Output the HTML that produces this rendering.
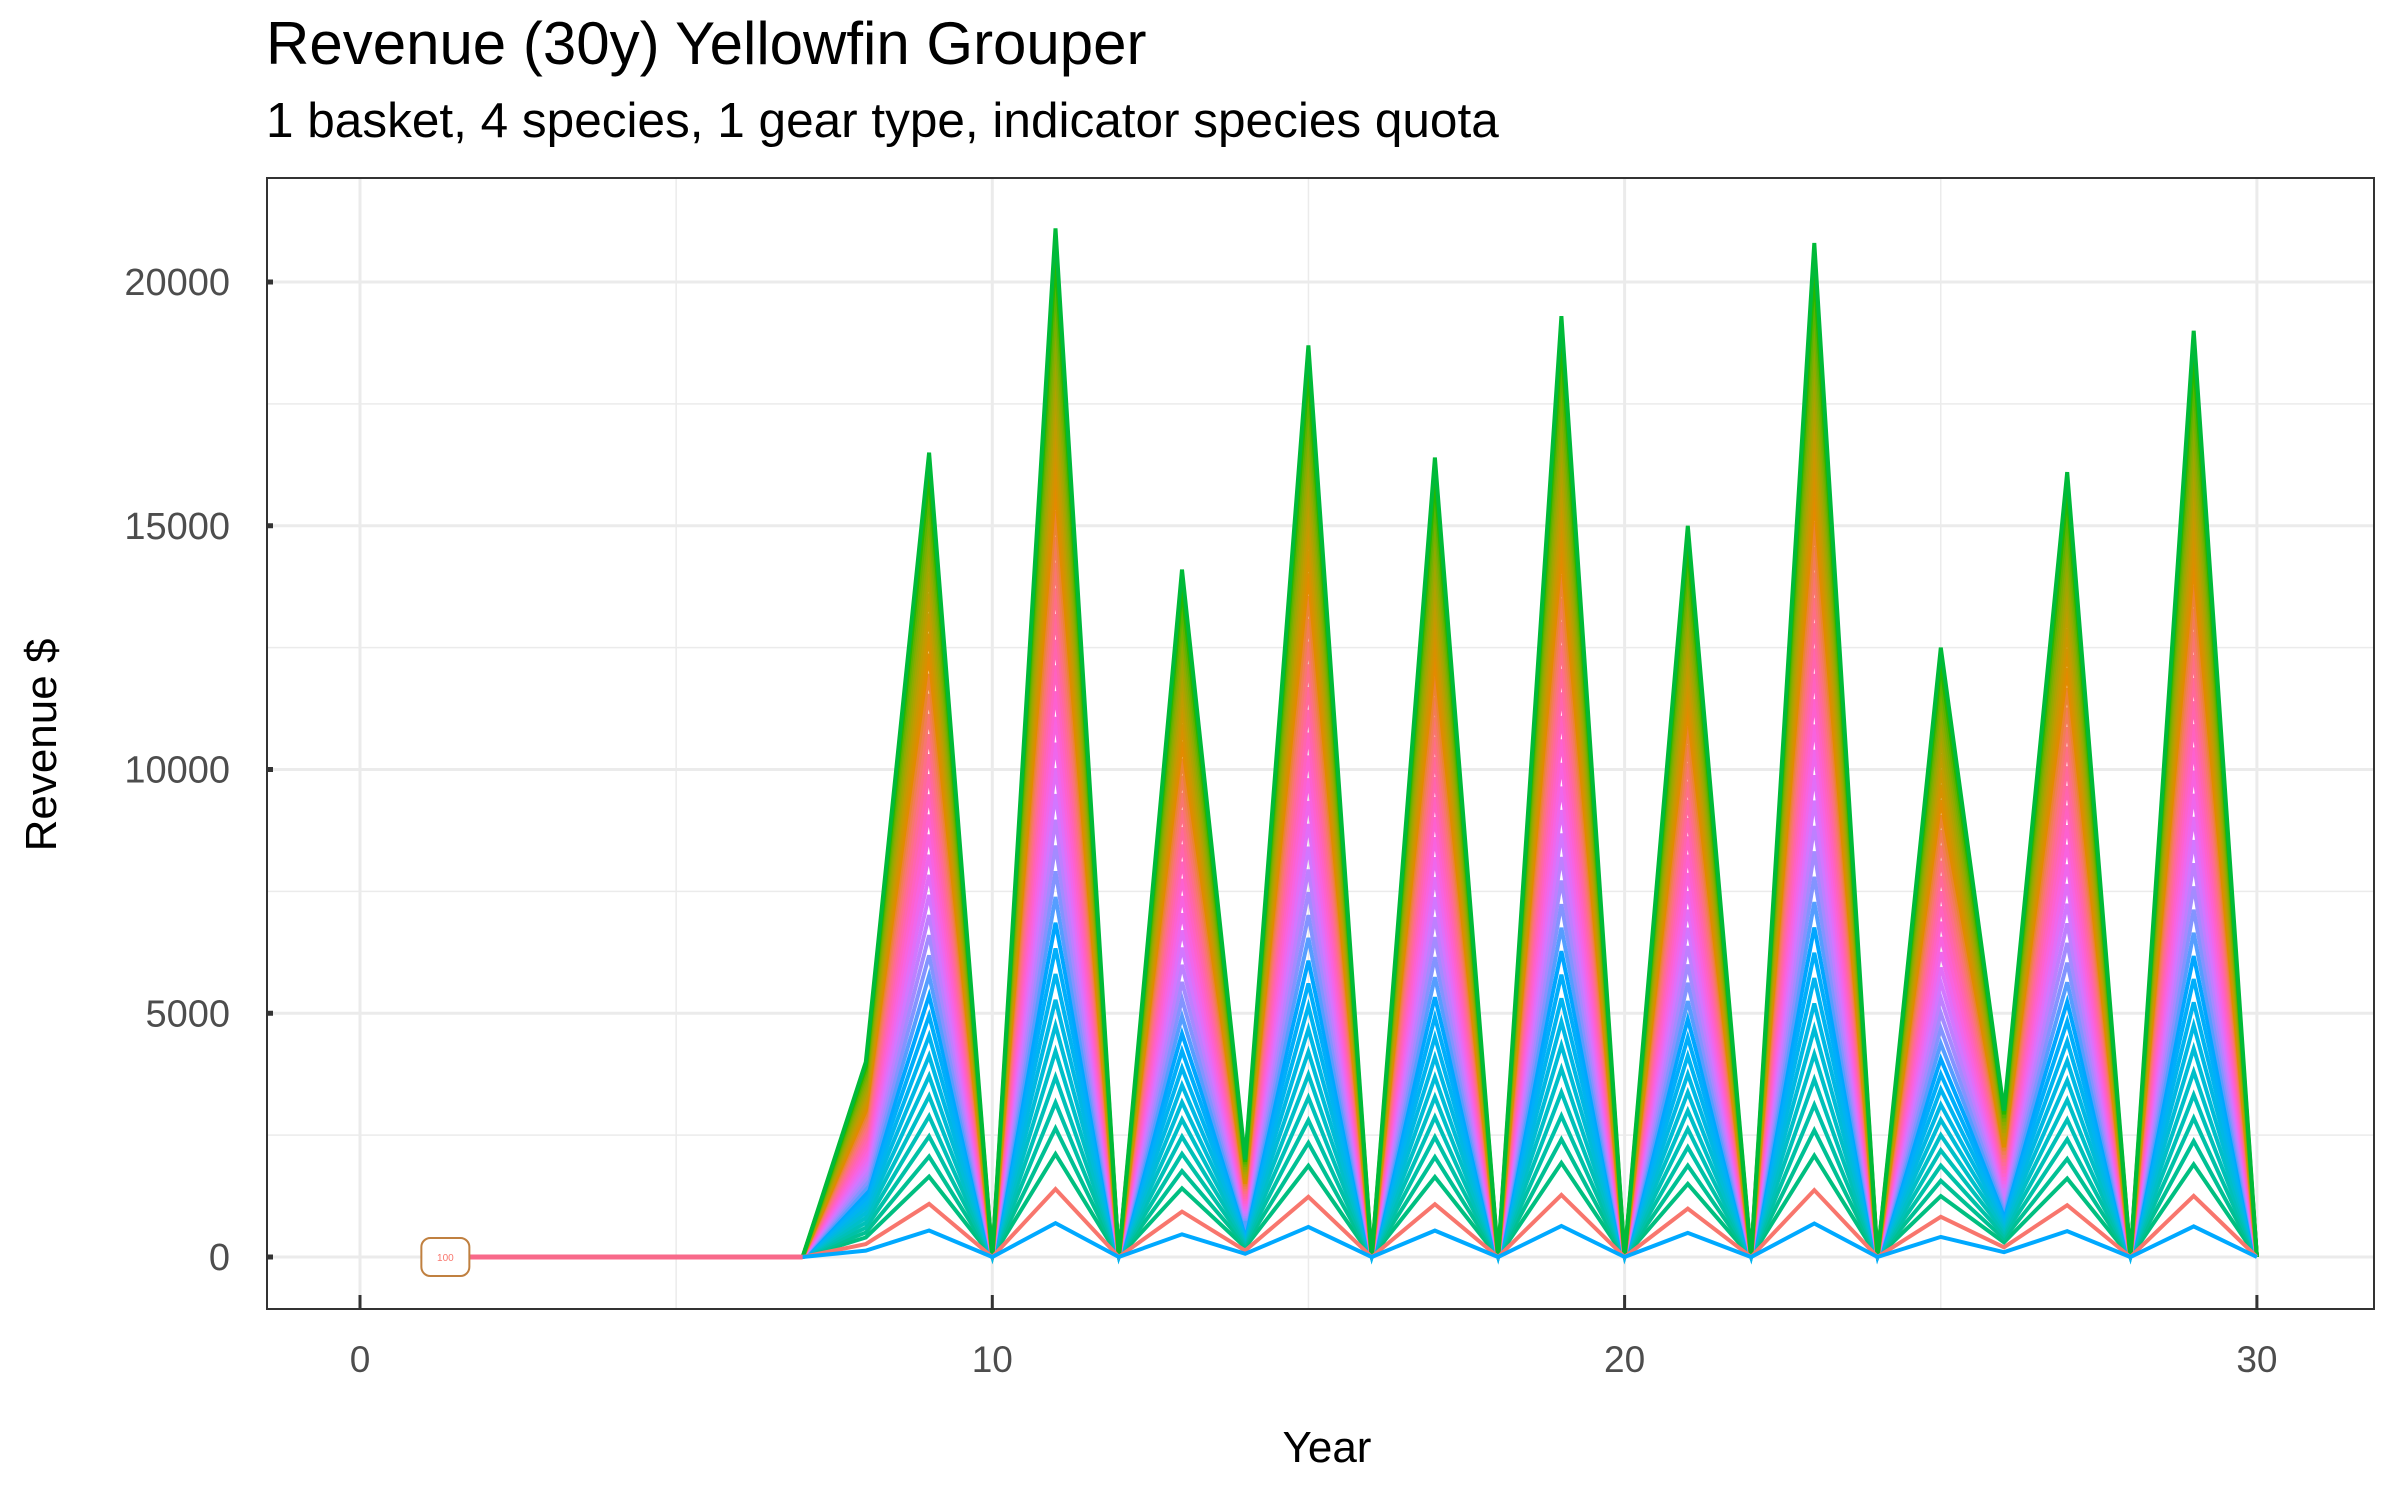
<!DOCTYPE html>
<html><head><meta charset="utf-8">
<style>
html,body{margin:0;padding:0;background:#fff;}
svg{display:block;font-family:"Liberation Sans",Arial,sans-serif;}
</style></head>
<body>
<svg id="chart" width="2400" height="1500" viewBox="0 0 2400 1500" xmlns="http://www.w3.org/2000/svg">
<rect width="2400" height="1500" fill="#fff"/>
<text x="266" y="64" font-size="60" fill="#000">Revenue (30y) Yellowfin Grouper</text>
<text x="266" y="137" font-size="49.5" fill="#000">1 basket, 4 species, 1 gear type, indicator species quota</text>
<g id="grid"></g>
<g id="series"></g>
<g id="axes"></g>
<text x="1327" y="1462" font-size="44" text-anchor="middle" fill="#000">Year</text>
<text transform="translate(56,745) rotate(-90)" font-size="44" text-anchor="middle" fill="#000">Revenue $</text>
</svg>
<script>
const years = [1,2,3,4,5,6,7,8,9,10,11,12,13,14,15,16,17,18,19,20,21,22,23,24,25,26,27,28,29,30];
const topRevenue = [0,0,0,0,0,0,0,4000,16500,0,21100,0,14100,2000,18700,0,16400,0,19300,0,15000,0,20800,0,12500,3000,16100,0,19000,0];
const multipliers = [0.1,0.125,0.15,0.175,0.2,0.225,0.25,0.275,0.3,0.325,0.35,0.375,0.4,0.425,0.45,0.475,0.5,0.525,0.55,0.575,0.6,0.625,0.65,0.675,0.7,0.725,0.75,0.775,0.8,0.825,0.85,0.875,0.9,0.925,0.95,0.975,1.0];
const lowMultipliers = [0.066, 0.033];
const xTicks = [0,10,20,30];
const yTicks = [0,5000,10000,15000,20000];

const NS="http://www.w3.org/2000/svg";
const P={l:267,r:2374,t:178,b:1309};
const X=v=>360+v*63.23;
const Y=v=>1257-v*0.04875;
function mk(tag,attrs,parent){const e=document.createElementNS(NS,tag);for(const k in attrs)e.setAttribute(k,attrs[k]);parent.appendChild(e);return e;}
function hcl(h,c,l){
  const hr=h*Math.PI/180,u=c*Math.cos(hr),v=c*Math.sin(hr);
  const Xn=0.95047,Yn=1,Zn=1.08883;
  const un=4*Xn/(Xn+15*Yn+3*Zn),vn=9*Yn/(Xn+15*Yn+3*Zn);
  const Yv=l>8?Yn*Math.pow((l+16)/116,3):Yn*l/903.3;
  const up=u/(13*l)+un,vp=v/(13*l)+vn;
  const Xv=Yv*9*up/(4*vp),Zv=Yv*(12-3*up-20*vp)/(4*vp);
  let r=3.2406*Xv-1.5372*Yv-0.4986*Zv,g=-0.9689*Xv+1.8758*Yv+0.0415*Zv,b=0.0557*Xv-0.2040*Yv+1.0570*Zv;
  const gm=x=>{x=x<=0.0031308?12.92*x:1.055*Math.pow(x,1/2.4)-0.055;return Math.round(Math.max(0,Math.min(1,x))*255);};
  return `rgb(${gm(r)},${gm(g)},${gm(b)})`;
}
const grid=document.getElementById('grid'),ser=document.getElementById('series'),axes=document.getElementById('axes');

for(let v=5;v<=35;v+=10){const x=X(v);if(x<P.r){const l=mk('line',{x1:x,x2:x,y1:P.t,y2:P.b,stroke:'#EBEBEB','stroke-width':1.5},grid);}}
for(let v=-2500;v<=22500;v+=5000){const y=Y(v);if(y>P.t&&y<P.b){const l=mk('line',{x1:P.l,x2:P.r,y1:y,y2:y,stroke:'#EBEBEB','stroke-width':1.5},grid);}}
xTicks.forEach(v=>{const l=mk('line',{x1:X(v),x2:X(v),y1:P.t,y2:P.b,stroke:'#EBEBEB','stroke-width':3},grid);});
yTicks.forEach(v=>{const l=mk('line',{x1:P.l,x2:P.r,y1:Y(v),y2:Y(v),stroke:'#EBEBEB','stroke-width':3},grid);});

function pts(m){return years.map((yr,i)=>X(yr).toFixed(1)+','+Y(topRevenue[i]*m).toFixed(1)).join(' ');}
multipliers.forEach((m,i)=>{
  const t=(m-0.1)/0.9;
  const hue=(160+t*335)%360;
  const pl=mk('polyline',{points:pts(m),fill:'none',stroke:hcl(hue,100,65),'stroke-width':4},ser);
  
  
});
const lowColors=['#F8766D','#00A9FF'];
lowMultipliers.forEach((m,i)=>{
  const pl=mk('polyline',{points:pts(m),fill:'none',stroke:lowColors[i],'stroke-width':4},ser);
  
  
});
const zl=mk('line',{x1:X(1.35),x2:X(7),y1:Y(0),y2:Y(0),stroke:'#F8698A','stroke-width':5},ser);


const lb=mk('rect',{x:X(1.35)-24,y:Y(0)-19,width:48,height:38,rx:9,fill:'#fff',stroke:'#C08040','stroke-width':2},ser);


const lt=mk('text',{x:X(1.35),y:Y(0)+4,'font-size':10,'text-anchor':'middle',fill:'#F8766D'},ser);
lt.textContent='100';



const bd=mk('rect',{x:P.l,y:P.t,width:P.r-P.l,height:P.b-P.t,fill:'none',stroke:'#333','stroke-width':2},axes);


xTicks.forEach(v=>{
  const tk=mk('line',{x1:X(v),x2:X(v),y1:P.b,y2:P.b-14,stroke:'#333','stroke-width':3},axes);
  
  
  const tx=mk('text',{x:X(v),y:1372,'font-size':37,'text-anchor':'middle',fill:'#4D4D4D'},axes);
  tx.textContent=v;
  
  
});
yTicks.forEach(v=>{
  const tk=mk('line',{x1:P.l,x2:P.l+6,y1:Y(v),y2:Y(v),stroke:'#333','stroke-width':5},axes);
  
  
  const tx=mk('text',{x:230,y:Y(v)+13,'font-size':38,'text-anchor':'end',fill:'#4D4D4D'},axes);
  tx.textContent=v;
  
  
});
</script>
</body></html>
